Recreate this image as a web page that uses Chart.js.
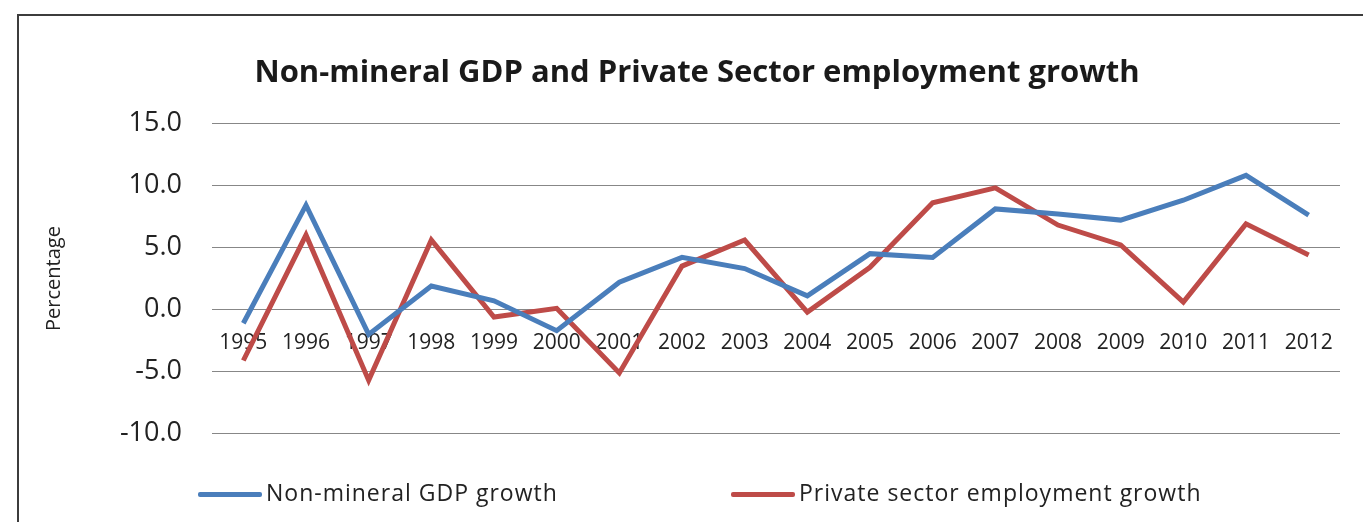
<!DOCTYPE html>
<html lang="en">
<head>
    <meta charset="UTF-8">
    <script src="https://cdn.jsdelivr.net/npm/chart.js"></script>
    <title>Non-mineral GDP and Private Sector employment growth</title>
    <style>
        body { margin: 0; background: #fff; overflow: hidden; width: 1363px; height: 522px; position: relative; font-family: "Open Sans", sans-serif; }
        #frame { position: absolute; left: 17px; top: 14px; width: 2000px; height: 1000px; border-top: 2px solid #3c3c3c; border-left: 2px solid #3c3c3c; }
        #wrap { position: absolute; left: 0; top: 0; width: 1363px; height: 480px; }
        .leg { position: absolute; top: 478px; font-size: 23px; letter-spacing: 1px; color: #222; white-space: nowrap; line-height: 28px; }
        .leg span { display: inline-block; width: 64px; height: 5px; vertical-align: middle; margin-right: 4px; border-radius: 2px; }
    </style>
</head>
<body>
    <div id="frame"></div>
    <div id="wrap"><canvas id="myChart"></canvas></div>
    <div class="leg" style="left:198px"><span style="background:#4A7EBB"></span>Non-mineral GDP growth</div>
    <div class="leg" style="left:731px"><span style="background:#BE4B48"></span>Private sector employment growth</div>
</body>

<script>
    const years = ['1995', '1996', '1997', '1998', '1999', '2000', '2001', '2002', '2003',
                   '2004', '2005', '2006', '2007', '2008', '2009', '2010', '2011', '2012'];
    const gdpGrowth = [-1.1, 8.4, -2.0, 1.9, 0.7, -1.7, 2.2, 4.2, 3.3, 1.1, 4.5, 4.2, 8.1, 7.7, 7.2, 8.8, 10.8, 7.6];
    const empGrowth = [-4.1, 6.0, -5.7, 5.6, -0.6, 0.1, -5.1, 3.5, 5.6, -0.2, 3.4, 8.6, 9.8, 6.8, 5.2, 0.6, 6.9, 4.4];
    const yTicks = [-10, -5, 0, 5, 10, 15];

    const ctx = document.getElementById('myChart');

    new Chart(ctx, {
        type: 'line',
        data: {
            labels: years,
            datasets: [{
                label: 'Non-mineral GDP growth',
                data: gdpGrowth,
                borderColor: '#4A7EBB',
                backgroundColor: '#4A7EBB',
                borderWidth: 5,
                pointRadius: 0,
                tension: 0
            }, {
                label: 'Private sector employment growth',
                data: empGrowth,
                borderColor: '#BE4B48',
                backgroundColor: '#BE4B48',
                borderWidth: 5,
                pointRadius: 0,
                tension: 0
            }]
        },
        options: {
            responsive: true,
            maintainAspectRatio: false,
            animation: false,
            layout: { padding: { left: 54, right: 23, top: 0, bottom: 28 } },
            plugins: {
                legend: { display: false },
                tooltip: { enabled: false },
                title: {
                    display: true,
                    text: 'Non-mineral GDP and Private Sector employment growth',
                    color: '#1a1a1a',
                    font: { family: 'Open Sans', size: 31, weight: 'bold' },
                    padding: { top: 55, bottom: 31 }
                }
            },
            scales: {
                x: {
                    position: { y: 0 },
                    offset: true,
                    grid: { display: false, drawTicks: false },
                    border: { display: false },
                    ticks: {
                        color: '#222',
                        padding: 21,
                        maxRotation: 0,
                        autoSkip: false,
                        font: { family: 'Open Sans', size: 21 }
                    }
                },
                y: {
                    min: yTicks[0],
                    max: yTicks[yTicks.length - 1],
                    afterFit: function(scale) { scale.width = 158; },
                    afterBuildTicks: function(scale) {
                        scale.ticks = yTicks.map(v => ({ value: v }));
                    },
                    grid: { color: '#878787', lineWidth: 1, drawTicks: false },
                    border: { display: false },
                    ticks: {
                        color: '#222',
                        padding: 30,
                        font: { family: 'Open Sans', size: 27 },
                        callback: function(value) { return value.toFixed(1); }
                    },
                    title: {
                        display: true,
                        text: 'Percentage',
                        color: '#222',
                        padding: { top: -12, bottom: 0 },
                        font: { family: 'Open Sans', size: 20 }
                    }
                }
            }
        }
    });
</script>
</html>
